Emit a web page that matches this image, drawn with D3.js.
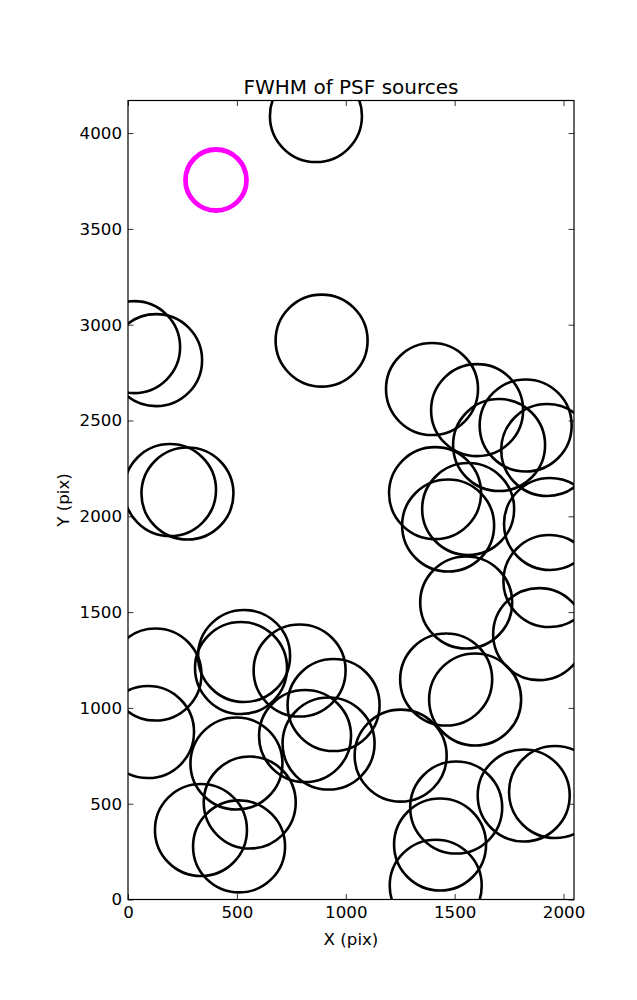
<!DOCTYPE html>
<html>
<head>
<meta charset="utf-8">
<script src="https://cdn.jsdelivr.net/npm/d3@7"></script>
<style>
  html, body { margin: 0; padding: 0; background: #fff; }
  svg { display: block; }
  text { font-family: "DejaVu Sans", sans-serif; fill: #000; }
</style>
</head>
<body>
<svg id="chart" width="637" height="1000"></svg>
<script>
// ---- data ----
const sourceX = [863, 28, 129, 889, 193, 273, 1396, 1603, 1826, 1704, 1925, 1410, 1562, 1470, 1938,
                 1935, 1553, 1888, 1461, 1594, 126, 92, 533, 519, 788, 944, 813, 921, 498, 559,
                 335, 510, 1252, 1507, 1433, 1413, 1817, 1961];
const sourceY = [4089, 2883, 2815, 2917, 2137, 2119, 2664, 2554, 2474, 2372, 2346, 2121, 2038, 1952, 1960,
                 1662, 1550, 1385, 1148, 1044, 1174, 874, 1271, 1208, 1195, 1015, 853, 814, 710, 506,
                 363, 277, 751, 480, 287, 72, 543, 561];
const highlightX = [404];
const highlightY = [3755];
const xTicks = [0, 500, 1000, 1500, 2000];
const yTicks = [0, 500, 1000, 1500, 2000, 2500, 3000, 3500, 4000];
const xDomain = [0, 2048];
const yDomain = [0, 4170];
const titleText = "FWHM of PSF sources";
const xLabel = "X (pix)";
const yLabel = "Y (pix)";

// ---- layout ----
const L = 128, R = 574, T = 100.5, B = 899.5;
const svg = d3.select("#chart");
const x = d3.scaleLinear().domain(xDomain).range([L, R]);
const y = d3.scaleLinear().domain(yDomain).range([B, T]);

svg.append("rect").attr("width", 637).attr("height", 1000).attr("fill", "#fff");

svg.append("defs").append("clipPath").attr("id", "plotclip")
  .append("rect").attr("x", L).attr("y", T).attr("width", R - L).attr("height", B - T);

const plot = svg.append("g").attr("clip-path", "url(#plotclip)");

plot.selectAll("circle.src").data(sourceX.map((v, i) => [v, sourceY[i]]))
  .enter().append("circle").attr("class", "src")
  .attr("cx", d => x(d[0])).attr("cy", d => y(d[1])).attr("r", 46)
  .attr("fill", "none").attr("stroke", "#000").attr("stroke-width", 2.6);

plot.selectAll("circle.hl").data(highlightX.map((v, i) => [v, highlightY[i]]))
  .enter().append("circle").attr("class", "hl")
  .attr("cx", d => x(d[0])).attr("cy", d => y(d[1])).attr("r", 30.5)
  .attr("fill", "none").attr("stroke", "#ff00ff").attr("stroke-width", 4.8);

// ---- axes (ticks inside, on all four sides) ----
const tickLen = 5.5;
const fs = 16.67;
const axB = svg.append("g").attr("transform", `translate(0,${B})`)
  .call(d3.axisBottom(x).tickValues(xTicks).tickSize(-tickLen).tickPadding(7).tickFormat(d3.format("d")));
const axT = svg.append("g").attr("transform", `translate(0,${T})`)
  .call(d3.axisTop(x).tickValues(xTicks).tickSize(-tickLen).tickFormat(""));
const axL = svg.append("g").attr("transform", `translate(${L},0)`)
  .call(d3.axisLeft(y).tickValues(yTicks).tickSize(-tickLen).tickPadding(6).tickFormat(d3.format("d")));
const axR = svg.append("g").attr("transform", `translate(${R},0)`)
  .call(d3.axisRight(y).tickValues(yTicks).tickSize(-tickLen).tickFormat(""));

[axB, axT, axL, axR].forEach(a => {
  a.select(".domain").remove();
  a.selectAll(".tick line").attr("stroke", "#000").attr("stroke-width", 0.8);
  a.selectAll(".tick text").attr("font-family", "DejaVu Sans").attr("font-size", fs).attr("fill", "#000");
});

svg.append("rect").attr("x", L).attr("y", T).attr("width", R - L).attr("height", B - T)
  .attr("fill", "none").attr("stroke", "#000").attr("stroke-width", 1.2);

// ---- labels ----
svg.append("text").attr("x", (L + R) / 2).attr("y", 93.5).attr("text-anchor", "middle")
  .attr("font-size", 20).text(titleText);
svg.append("text").attr("x", (L + R) / 2).attr("y", 945).attr("text-anchor", "middle")
  .attr("font-size", fs).text(xLabel);
svg.append("text").attr("transform", `translate(69,${(T + B) / 2}) rotate(-90)`)
  .attr("text-anchor", "middle").attr("font-size", fs).text(yLabel);
</script>
</body>
</html>
